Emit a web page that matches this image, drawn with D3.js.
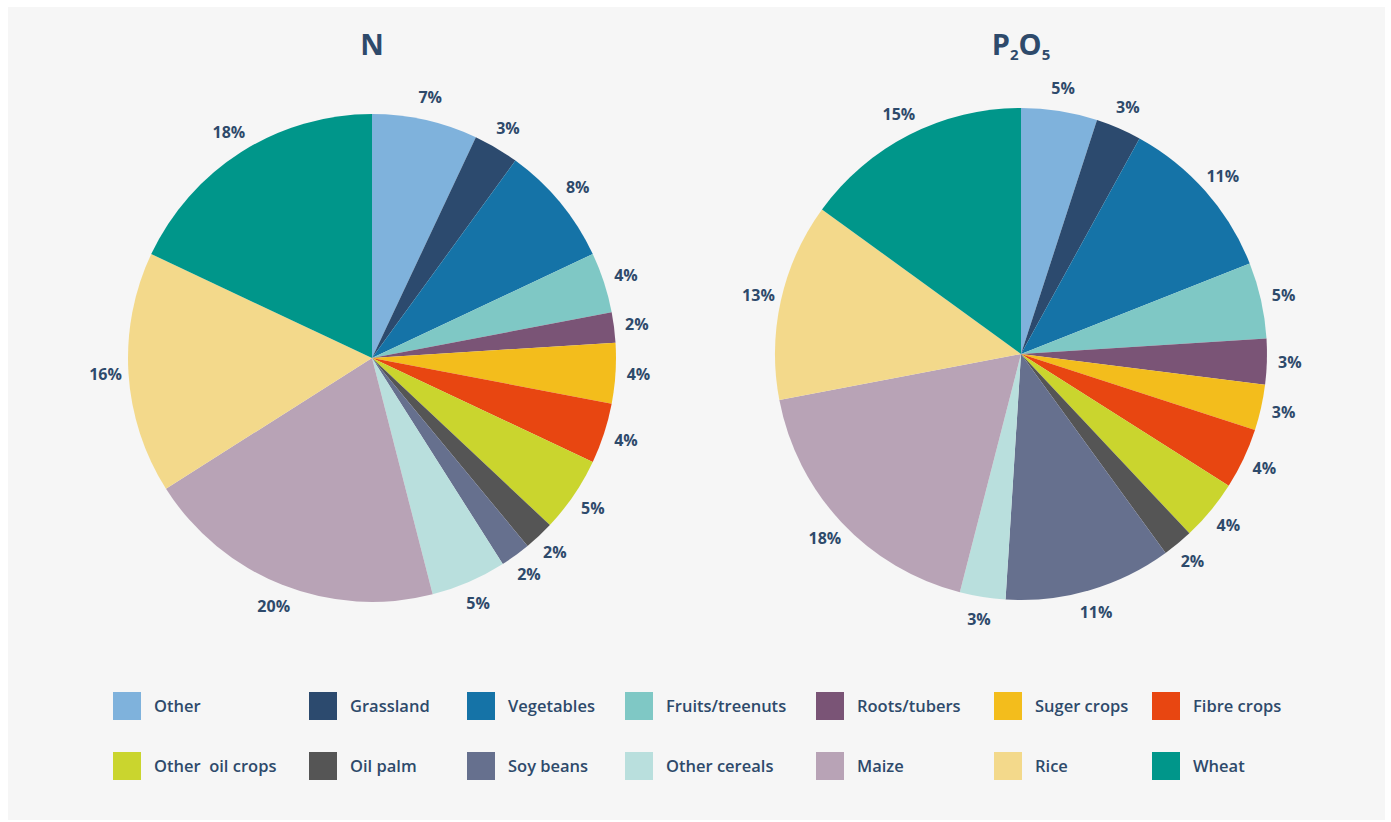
<!DOCTYPE html>
<html>
<head>
<meta charset="utf-8">
<script src="https://cdn.jsdelivr.net/npm/d3@7"></script>
<style>
  body { margin: 0; background: #ffffff; }
  svg { display: block; font-family: "Open Sans", sans-serif; }
</style>
</head>
<body>
<svg width="1391" height="822"></svg>
<script>
// crop categories, in slice order (clockwise from 12 o'clock)
var categories = ["Other", "Grassland", "Vegetables", "Fruits/treenuts", "Roots/tubers", "Suger crops", "Fibre crops",
                  "Other  oil crops", "Oil palm", "Soy beans", "Other cereals", "Maize", "Rice", "Wheat"];
var colors = ["#7fb2dc", "#2c4a6e", "#1573a7", "#7fc8c5", "#7a5476", "#f3bd1c", "#e84611",
              "#cad52e", "#555555", "#66708e", "#b9dfdd", "#b8a3b6", "#f3d98b", "#00968a"];
// percent shares
var nValues = [7, 3, 8, 4, 2, 4, 4, 5, 2, 2, 5, 20, 16, 18];
var pValues = [5, 3, 11, 5, 3, 3, 4, 4, 2, 11, 3, 18, 13, 15];

var svg = d3.select("svg");
var textColor = "#2e4a6b";

svg.append("rect")
	.attr("x", 8).attr("y", 7)
	.attr("width", 1377).attr("height", 813)
	.attr("fill", "#f6f6f6");

var color = d3.scaleOrdinal().domain(categories).range(colors);

function drawPie(values, cx, cy, r) {
	var data = categories.map((c, i) => ({name: c, value: values[i]}));
	var pie = d3.pie().sort(null).value(d => d.value);
	var arc = d3.arc().innerRadius(0).outerRadius(r);
	var labelArc = d3.arc().innerRadius(r + 23).outerRadius(r + 23);

	var g = svg.append("g").attr("transform", "translate(" + cx + "," + cy + ")");
	var arcs = pie(data);

	g.selectAll("path")
		.data(arcs)
		.enter()
		.append("path")
		.attr("d", arc)
		.attr("fill", d => color(d.data.name));

	g.selectAll("text")
		.data(arcs)
		.enter()
		.append("text")
		.attr("transform", d => "translate(" + labelArc.centroid(d) + ")")
		.attr("text-anchor", "middle")
		.attr("dy", "0.35em")
		.attr("fill", textColor)
		.style("font-size", "16px")
		.style("font-weight", 700)
		.text(d => d.data.value + "%");
}

drawPie(nValues, 372, 358, 244);
drawPie(pValues, 1021, 354, 246);

// titles
svg.append("text")
	.attr("x", 372).attr("y", 55)
	.attr("text-anchor", "middle")
	.attr("fill", textColor)
	.style("font-size", "29px")
	.style("font-weight", 700)
	.text("N");

var t2 = svg.append("text")
	.attr("x", 1021).attr("y", 55)
	.attr("text-anchor", "middle")
	.attr("fill", textColor)
	.style("font-size", "29px")
	.style("font-weight", 700);
t2.append("tspan").text("P");
t2.append("tspan").attr("dy", 5).style("font-size", "15px").text("2");
t2.append("tspan").attr("dy", -5).text("O");
t2.append("tspan").attr("dy", 5).style("font-size", "15px").text("5");

// legend
var legendX = [113, 309, 467, 625, 816, 994, 1152];
var legendY = [692, 752];

var legend = svg.selectAll("g.legend")
	.data(categories)
	.enter()
	.append("g")
	.attr("class", "legend")
	.attr("transform", (d, i) => "translate(" + legendX[i % 7] + "," + legendY[Math.floor(i / 7)] + ")");

legend.append("rect")
	.attr("width", 28).attr("height", 28)
	.attr("fill", d => color(d));

legend.append("text")
	.attr("x", 41).attr("y", 14)
	.attr("dy", "0.35em")
	.attr("fill", textColor)
	.style("font-size", "16.5px")
	.style("font-weight", 600)
	.style("white-space", "pre")
	.attr("xml:space", "preserve")
	.text(d => d);
</script>
</body>
</html>
